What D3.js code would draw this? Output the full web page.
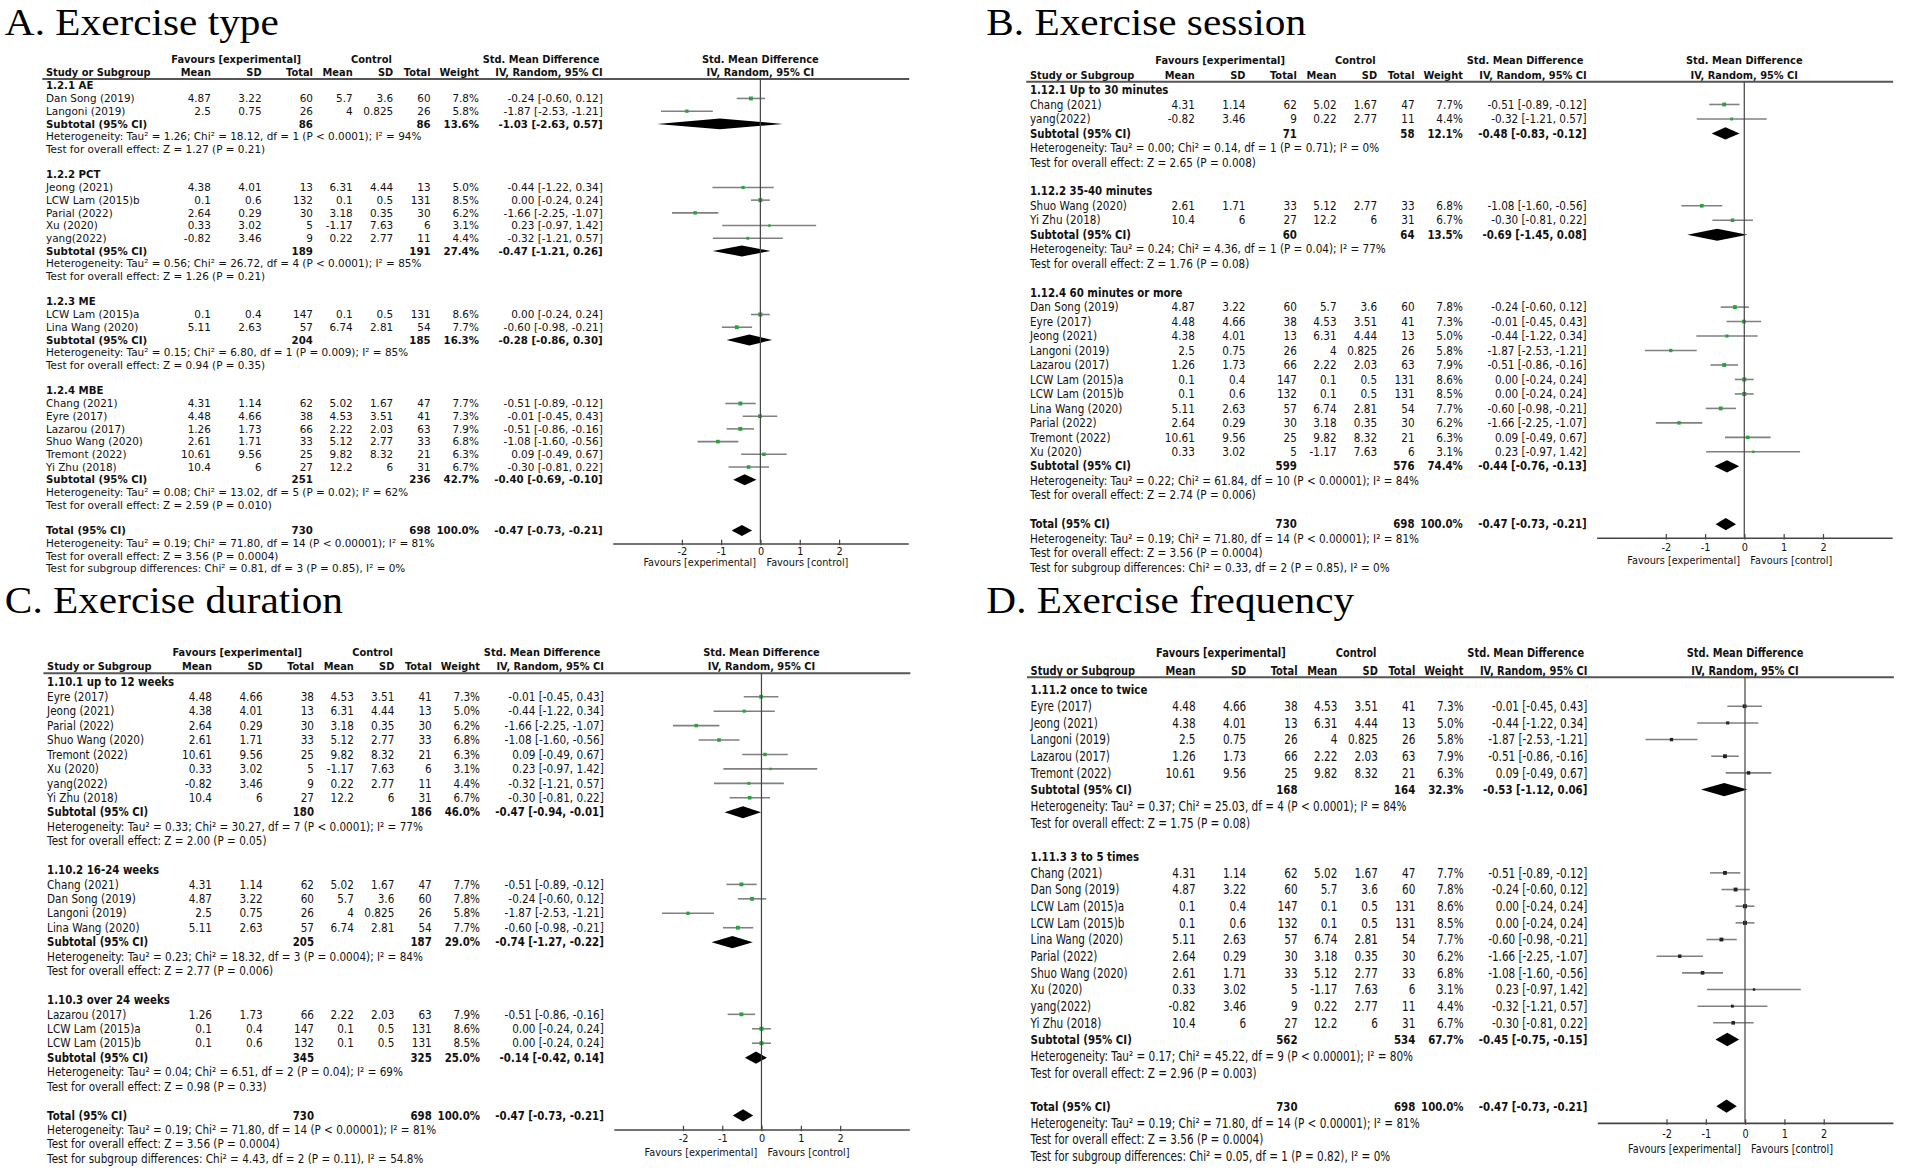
<!DOCTYPE html>
<html>
<head>
<meta charset="utf-8">
<script src="https://cdn.jsdelivr.net/npm/d3@7"></script>
<style>
  body { margin: 0; background: #fff; }
  svg { display: block; }
  text { font-family: "DejaVu Sans", Verdana, sans-serif; fill: #111; }
</style>
</head>
<body>
<script>
// ---- study level data (same values in every panel) ----
const studyNames = ["Dan Song (2019)", "Langoni (2019)", "Jeong (2021)", "LCW Lam (2015)b", "Parial (2022)",
  "Xu (2020)", "yang(2022)", "LCW Lam (2015)a", "Lina Wang (2020)", "Chang (2021)", "Eyre (2017)",
  "Lazarou (2017)", "Shuo Wang (2020)", "Tremont (2022)", "Yi Zhu (2018)"];
const expMean = [4.87, 2.5, 4.38, 0.1, 2.64, 0.33, -0.82, 0.1, 5.11, 4.31, 4.48, 1.26, 2.61, 10.61, 10.4];
const expSD   = [3.22, 0.75, 4.01, 0.6, 0.29, 3.02, 3.46, 0.4, 2.63, 1.14, 4.66, 1.73, 1.71, 9.56, 6];
const expN    = [60, 26, 13, 132, 30, 5, 9, 147, 57, 62, 38, 66, 33, 25, 27];
const ctlMean = [5.7, 4, 6.31, 0.1, 3.18, -1.17, 0.22, 0.1, 6.74, 5.02, 4.53, 2.22, 5.12, 9.82, 12.2];
const ctlSD   = [3.6, 0.825, 4.44, 0.5, 0.35, 7.63, 2.77, 0.5, 2.81, 1.67, 3.51, 2.03, 2.77, 8.32, 6];
const ctlN    = [60, 26, 13, 131, 30, 6, 11, 131, 54, 47, 41, 63, 33, 21, 31];
const weight  = [7.8, 5.8, 5.0, 8.5, 6.2, 3.1, 4.4, 8.6, 7.7, 7.7, 7.3, 7.9, 6.8, 6.3, 6.7];
const smd     = [-0.24, -1.87, -0.44, 0.00, -1.66, 0.23, -0.32, 0.00, -0.60, -0.51, -0.01, -0.51, -1.08, 0.09, -0.30];
const smdLo   = [-0.60, -2.53, -1.22, -0.24, -2.25, -0.97, -1.21, -0.24, -0.98, -0.89, -0.45, -0.86, -1.60, -0.49, -0.81];
const smdHi   = [0.12, -1.21, 0.34, 0.24, -1.07, 1.42, 0.57, 0.24, -0.21, -0.12, 0.43, -0.16, -0.56, 0.67, 0.22];

// ---- subgroups of each panel ----
const typeGroups = [
  { label: "1.2.1 AE", studies: ["Dan Song (2019)", "Langoni (2019)"], n1: 86, n2: 86, w: 13.6, est: [-1.03, -2.63, 0.57],
    het: "Tau² = 1.26; Chi² = 18.12, df = 1 (P < 0.0001); I² = 94%", z: "Z = 1.27 (P = 0.21)" },
  { label: "1.2.2 PCT", studies: ["Jeong (2021)", "LCW Lam (2015)b", "Parial (2022)", "Xu (2020)", "yang(2022)"], n1: 189, n2: 191, w: 27.4, est: [-0.47, -1.21, 0.26],
    het: "Tau² = 0.56; Chi² = 26.72, df = 4 (P < 0.0001); I² = 85%", z: "Z = 1.26 (P = 0.21)" },
  { label: "1.2.3 ME", studies: ["LCW Lam (2015)a", "Lina Wang (2020)"], n1: 204, n2: 185, w: 16.3, est: [-0.28, -0.86, 0.30],
    het: "Tau² = 0.15; Chi² = 6.80, df = 1 (P = 0.009); I² = 85%", z: "Z = 0.94 (P = 0.35)" },
  { label: "1.2.4 MBE", studies: ["Chang (2021)", "Eyre (2017)", "Lazarou (2017)", "Shuo Wang (2020)", "Tremont (2022)", "Yi Zhu (2018)"], n1: 251, n2: 236, w: 42.7, est: [-0.40, -0.69, -0.10],
    het: "Tau² = 0.08; Chi² = 13.02, df = 5 (P = 0.02); I² = 62%", z: "Z = 2.59 (P = 0.010)" }
];
const sessionGroups = [
  { label: "1.12.1 Up to 30 minutes", studies: ["Chang (2021)", "yang(2022)"], n1: 71, n2: 58, w: 12.1, est: [-0.48, -0.83, -0.12],
    het: "Tau² = 0.00; Chi² = 0.14, df = 1 (P = 0.71); I² = 0%", z: "Z = 2.65 (P = 0.008)" },
  { label: "1.12.2 35-40 minutes", studies: ["Shuo Wang (2020)", "Yi Zhu (2018)"], n1: 60, n2: 64, w: 13.5, est: [-0.69, -1.45, 0.08],
    het: "Tau² = 0.24; Chi² = 4.36, df = 1 (P = 0.04); I² = 77%", z: "Z = 1.76 (P = 0.08)" },
  { label: "1.12.4 60 minutes or more", studies: ["Dan Song (2019)", "Eyre (2017)", "Jeong (2021)", "Langoni (2019)", "Lazarou (2017)", "LCW Lam (2015)a", "LCW Lam (2015)b", "Lina Wang (2020)", "Parial (2022)", "Tremont (2022)", "Xu (2020)"], n1: 599, n2: 576, w: 74.4, est: [-0.44, -0.76, -0.13],
    het: "Tau² = 0.22; Chi² = 61.84, df = 10 (P < 0.00001); I² = 84%", z: "Z = 2.74 (P = 0.006)" }
];
const durationGroups = [
  { label: "1.10.1 up to 12 weeks", studies: ["Eyre (2017)", "Jeong (2021)", "Parial (2022)", "Shuo Wang (2020)", "Tremont (2022)", "Xu (2020)", "yang(2022)", "Yi Zhu (2018)"], n1: 180, n2: 186, w: 46.0, est: [-0.47, -0.94, -0.01],
    het: "Tau² = 0.33; Chi² = 30.27, df = 7 (P < 0.0001); I² = 77%", z: "Z = 2.00 (P = 0.05)" },
  { label: "1.10.2 16-24 weeks", studies: ["Chang (2021)", "Dan Song (2019)", "Langoni (2019)", "Lina Wang (2020)"], n1: 205, n2: 187, w: 29.0, est: [-0.74, -1.27, -0.22],
    het: "Tau² = 0.23; Chi² = 18.32, df = 3 (P = 0.0004); I² = 84%", z: "Z = 2.77 (P = 0.006)" },
  { label: "1.10.3 over 24 weeks", studies: ["Lazarou (2017)", "LCW Lam (2015)a", "LCW Lam (2015)b"], n1: 345, n2: 325, w: 25.0, est: [-0.14, -0.42, 0.14],
    het: "Tau² = 0.04; Chi² = 6.51, df = 2 (P = 0.04); I² = 69%", z: "Z = 0.98 (P = 0.33)" }
];
const frequencyGroups = [
  { label: "1.11.2 once to twice", studies: ["Eyre (2017)", "Jeong (2021)", "Langoni (2019)", "Lazarou (2017)", "Tremont (2022)"], n1: 168, n2: 164, w: 32.3, est: [-0.53, -1.12, 0.06],
    het: "Tau² = 0.37; Chi² = 25.03, df = 4 (P < 0.0001); I² = 84%", z: "Z = 1.75 (P = 0.08)" },
  { label: "1.11.3 3 to 5 times", studies: ["Chang (2021)", "Dan Song (2019)", "LCW Lam (2015)a", "LCW Lam (2015)b", "Lina Wang (2020)", "Parial (2022)", "Shuo Wang (2020)", "Xu (2020)", "yang(2022)", "Yi Zhu (2018)"], n1: 562, n2: 534, w: 67.7, est: [-0.45, -0.75, -0.15],
    het: "Tau² = 0.17; Chi² = 45.22, df = 9 (P < 0.00001); I² = 80%", z: "Z = 2.96 (P = 0.003)" }
];
const overall = { n1: 730, n2: 698, w: 100.0, est: [-0.47, -0.73, -0.21],
  het: "Tau² = 0.19; Chi² = 71.80, df = 14 (P < 0.00001); I² = 81%", z: "Z = 3.56 (P = 0.0004)" };
const subgroupTests = [
  "Chi² = 0.81, df = 3 (P = 0.85), I² = 0%",
  "Chi² = 0.33, df = 2 (P = 0.85), I² = 0%",
  "Chi² = 4.43, df = 2 (P = 0.11), I² = 54.8%",
  "Chi² = 0.05, df = 1 (P = 0.82), I² = 0%"
];
const panelTitles = ["A. Exercise type", "B. Exercise session", "C. Exercise duration", "D. Exercise frequency"];
const tickValues = [-2, -1, 0, 1, 2];

// ---- layout (drawn in a 1568 x 962 space, scaled up to the page) ----
const layouts = [
  { right: 495.6,  titleX: 4,   titleY: 29,  hdr1: 48.8,  hdr2: 59.8,  lineY: 65,    row0: 70.5, pitch: 10.45, sy: 1.0,  axisGap: 10.5, tickY: 6.8, favY: 15.9, dh: 9,  dot: "#27a33c" },
  { right: 1304.6, titleX: 811, titleY: 29,  hdr1: 49.3,  hdr2: 61.4,  lineY: 67.2,  row0: 74,   pitch: 11.9,  sy: 1.12, axisGap: 11.1, tickY: 7.4, favY: 18.3, dh: 10, dot: "#27a33c" },
  { right: 496.5,  titleX: 4,   titleY: 504, hdr1: 535.8, hdr2: 547.6, lineY: 553.6, row0: 561,  pitch: 11.87, sy: 1.12, axisGap: 11.5, tickY: 7.4, favY: 18.4, dh: 10, dot: "#27a33c" },
  { right: 1305.2, titleX: 811, titleY: 504, hdr1: 536.6, hdr2: 550.9, lineY: 556.9, row0: 567,  pitch: 13.7,  sy: 1.28, axisGap: 13.7, tickY: 9,   favY: 20.8, dh: 11, dot: "#222" }
];
const FS = 8.6, FSB = 8.4;

const svg = d3.select("body").append("svg")
    .attr("width", 1907)
    .attr("height", 1170)
    .attr("viewBox", "0 0 1568 962");

const f2 = v => v.toFixed(2);
const ciText = e => `${f2(e[0])} [${f2(e[1])}, ${f2(e[2])}]`;
const pct = w => w.toFixed(1) + "%";
const dotSize = d3.scaleSqrt().domain([0, 9]).range([0, 3.4]);

// text placed with its own scale so each panel keeps the picture's proportions
function label(g, x, y, s, opt = {}) {
  return g.append("text")
    .attr("transform", `translate(${x},${y}) scale(${opt.sx || 1},${opt.sy || 1})`)
    .attr("dy", opt.dy || "0.36em")
    .attr("text-anchor", opt.anchor || "start")
    .attr("font-size", opt.size || (opt.bold ? FSB : FS))
    .attr("font-weight", opt.bold ? "bold" : null)
    .style("font-family", opt.family || null)
    .text(s);
}

function drawPanel(k, groups) {
  const lay = layouts[k], R = lay.right, L = R - 457.8, sy = lay.sy;
  const col = { mean: R - 322.2, sd: R - 280.5, n: R - 238.3, mean2: R - 205.6, sd2: R - 172.3, n2: R - 141.5, w: R - 101.8, ci: R };
  const g = svg.append("g");

  // forest scale, symmetric around 0
  const x = d3.scaleLinear().domain([-3.76, 3.76]).range([R + 8.1, R + 251.1]);

  label(g, lay.titleX, lay.titleY, panelTitles[k], { size: 31, sx: 1.095, dy: "0", family: "'Liberation Serif', 'Times New Roman', serif" })
    .style("fill", "#000");

  // headers
  const hb = { bold: true, sy: sy };
  label(g, R - 301.4, lay.hdr1, "Favours [experimental]", { ...hb, anchor: "middle", size: 8.1 });
  label(g, R - 190.2, lay.hdr1, "Control", { ...hb, anchor: "middle", size: 8.1 });
  label(g, R - 50.7, lay.hdr1, "Std. Mean Difference", { ...hb, anchor: "middle", size: 8.1 });
  label(g, x(0), lay.hdr1, "Std. Mean Difference", { ...hb, anchor: "middle", size: 8.1 });
  label(g, L, lay.hdr2, "Study or Subgroup", { ...hb, size: 8.1 });
  [["Mean", col.mean], ["SD", col.sd], ["Total", col.n], ["Mean", col.mean2], ["SD", col.sd2], ["Total", col.n2],
   ["Weight", col.w], ["IV, Random, 95% CI", col.ci]].forEach(([t, cx]) => label(g, cx, lay.hdr2, t, { ...hb, anchor: "end", size: 8.1 }));
  label(g, x(0), lay.hdr2, "IV, Random, 95% CI", { ...hb, anchor: "middle", size: 8.1 });

  g.append("line")
    .attr("x1", L - 3).attr("x2", R + 252)
    .attr("y1", lay.lineY).attr("y2", lay.lineY)
    .attr("stroke", "#555").attr("stroke-width", 1.6);

  // build the row list
  const rows = [];
  groups.forEach(gr => {
    rows.push({ kind: "head", text: gr.label });
    gr.studies.forEach(s => rows.push({ kind: "study", i: studyNames.indexOf(s) }));
    rows.push({ kind: "sub", d: gr, text: "Subtotal (95% CI)" });
    rows.push({ kind: "note", text: "Heterogeneity: " + gr.het });
    rows.push({ kind: "note", text: "Test for overall effect: " + gr.z });
    rows.push({ kind: "blank" });
  });
  rows.push({ kind: "sub", d: overall, text: "Total (95% CI)", total: true });
  rows.push({ kind: "note", text: "Heterogeneity: " + overall.het });
  rows.push({ kind: "note", text: "Test for overall effect: " + overall.z });
  rows.push({ kind: "note", text: "Test for subgroup differences: " + subgroupTests[k] });

  const yRow = i => lay.row0 + i * lay.pitch;
  let totalY = 0;
  const tb = { sy: sy };

  rows.forEach((r, i) => {
    const y = yRow(i);
    if (r.kind === "head") {
      label(g, L, y, r.text, { ...tb, bold: true });
    } else if (r.kind === "note") {
      label(g, L, y, r.text, tb);
    } else if (r.kind === "study") {
      const j = r.i;
      label(g, L, y, studyNames[j], tb);
      [[expMean[j], col.mean], [expSD[j], col.sd], [expN[j], col.n], [ctlMean[j], col.mean2],
       [ctlSD[j], col.sd2], [ctlN[j], col.n2]].forEach(([v, cx]) => label(g, cx, y, String(v), { ...tb, anchor: "end" }));
      label(g, col.w, y, pct(weight[j]), { ...tb, anchor: "end" });
      label(g, col.ci, y, ciText([smd[j], smdLo[j], smdHi[j]]), { ...tb, anchor: "end" });
      // confidence interval and point estimate
      g.append("line")
        .attr("x1", x(smdLo[j])).attr("x2", x(smdHi[j]))
        .attr("y1", y).attr("y2", y)
        .attr("stroke", "#808080").attr("stroke-width", 1.3);
      const s = dotSize(weight[j]);
      g.append("rect")
        .attr("x", x(smd[j]) - s / 2).attr("y", y - s / 2)
        .attr("width", s).attr("height", s)
        .attr("fill", lay.dot);
    } else if (r.kind === "sub") {
      const d = r.d, bb = { ...tb, bold: true };
      label(g, L, y, r.text, bb);
      label(g, col.n, y, String(d.n1), { ...bb, anchor: "end" });
      label(g, col.n2, y, String(d.n2), { ...bb, anchor: "end" });
      label(g, col.w, y, pct(d.w), { ...bb, anchor: "end" });
      label(g, col.ci, y, ciText(d.est), { ...bb, anchor: "end" });
      const h = lay.dh / 2;
      g.append("polygon")
        .attr("points", [[x(d.est[1]), y], [x(d.est[0]), y - h], [x(d.est[2]), y], [x(d.est[0]), y + h]].join(" "))
        .attr("fill", "#000");
      if (r.total) totalY = y;
    }
  });

  // axis
  const axisY = totalY + lay.axisGap;
  g.append("line")
    .attr("x1", x(0)).attr("x2", x(0))
    .attr("y1", lay.lineY).attr("y2", axisY)
    .attr("stroke", "#444").attr("stroke-width", 1);

  const ax = g.append("g")
    .attr("transform", `translate(0,${axisY})`)
    .call(d3.axisBottom(x).tickValues(tickValues).tickFormat(d => String(d)).tickSizeInner(-3).tickSizeOuter(0));
  ax.select(".domain").attr("stroke", "#444").attr("stroke-width", 1.3);
  ax.selectAll(".tick line").attr("stroke", "#444").attr("y1", 1.5).attr("y2", -3);
  ax.selectAll(".tick text")
    .attr("y", null)
    .attr("dy", "0.36em")
    .attr("transform", `translate(0,${lay.tickY}) scale(1,${sy})`)
    .attr("font-size", 8)
    .attr("font-family", null)
    .style("fill", "#111");

  label(g, x(0) - 3.5, axisY + lay.favY, "Favours [experimental]", { sy: sy, anchor: "end", size: 8 });
  label(g, x(0) + 5, axisY + lay.favY, "Favours [control]", { sy: sy, size: 8 });
}

[typeGroups, sessionGroups, durationGroups, frequencyGroups].forEach((groups, k) => drawPanel(k, groups));
</script>
</body>
</html>
